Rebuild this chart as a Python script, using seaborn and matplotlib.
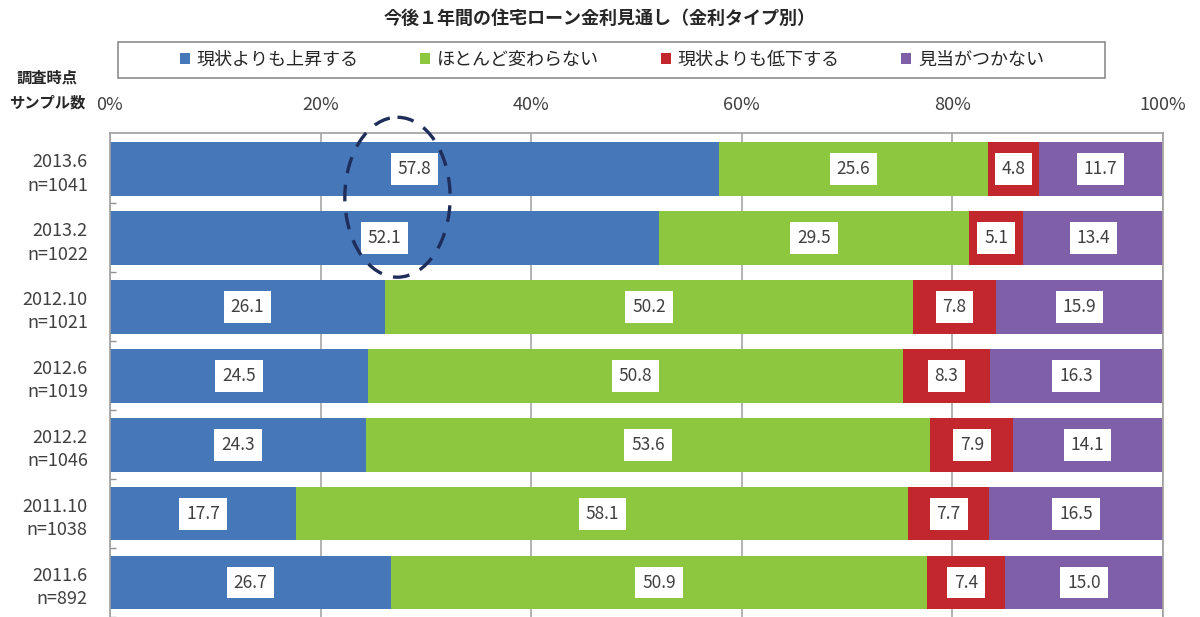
import matplotlib
matplotlib.use("Agg")
import matplotlib.pyplot as plt
import seaborn as sns
import pandas as pd
import numpy as np
from matplotlib.patches import Ellipse, Rectangle, Patch

sns.set_theme(style="white")
plt.rcParams['font.family'] = ['Noto Sans CJK JP', 'DejaVu Sans']

title = "今後１年間の住宅ローン金利見通し（金利タイプ別）"
dates = ["2013.6", "2013.2", "2012.10", "2012.6", "2012.2", "2011.10", "2011.6"]
samples = [1041, 1022, 1021, 1019, 1046, 1038, 892]
series_names = ["現状よりも上昇する", "ほとんど変わらない", "現状よりも低下する", "見当がつかない"]
rise = [57.8, 52.1, 26.1, 24.5, 24.3, 17.7, 26.7]
flat = [25.6, 29.5, 50.2, 50.8, 53.6, 58.1, 50.9]
fall = [4.8, 5.1, 7.8, 8.3, 7.9, 7.7, 7.4]
unknown = [11.7, 13.4, 15.9, 16.3, 14.1, 16.5, 15.0]
xticks = [0, 20, 40, 60, 80, 100]

colors = ["#4677b8", "#8dc63f", "#c1272d", "#7f5fa8"]
text_color = "#404040"

cats = [f"{d}\nn={n}" for d, n in zip(dates, samples)]
df = pd.DataFrame({"cat": cats, "rise": rise, "flat": flat, "fall": fall, "unknown": unknown})
cols = ["rise", "flat", "fall", "unknown"]
cum = df[cols].cumsum(axis=1)

fig = plt.figure(figsize=(12, 6.17), dpi=100)
ax = fig.add_axes([110/1200, 0.0, 1053/1200, 1 - 133/617])

# draw cumulative from the end back so each segment shows
for col, c in zip(reversed(cols), reversed(colors)):
    sns.barplot(data=cum.assign(cat=df["cat"]), x=col, y="cat", order=cats,
                color=c, saturation=1, width=0.78, orient="h", ax=ax,
                edgecolor="none", linewidth=0, zorder=2)

# value labels
for i in range(len(cats)):
    for col in cols:
        v = df.loc[i, col]
        center = cum.loc[i, col] - v / 2
        ax.text(center, i, f"{v:.1f}", ha="center", va="center", fontsize=12.5,
                color=text_color, zorder=5,
                bbox=dict(boxstyle="square,pad=0.4", fc="white", ec="none"))

ax.set_xlim(0, 100)
ax.set_ylim(6.49, -0.522)
ax.set_xticks(xticks)
ax.set_xticklabels([f"{t}%" for t in xticks], fontsize=13, color=text_color)
ax.xaxis.tick_top()
ax.xaxis.set_label_position("top")
ax.set_xlabel("")
ax.set_ylabel("")
ax.tick_params(axis="x", length=0, pad=14)
ax.tick_params(axis="y", length=0, pad=16)
for lab in ax.get_yticklabels():
    lab.set_fontsize(13)
    lab.set_color(text_color)
    lab.set_linespacing(1.4)
    lab.set_ha("right")

ax.set_yticks(np.arange(len(cats)) + 0.5, minor=True)
ax.tick_params(axis="y", which="minor", direction="in", length=4, color="#909090", width=1, left=True)

ax.grid(axis="x", color="#a6a6a6", linewidth=1.2, zorder=0)
ax.set_axisbelow(True)
for s in ["top", "left", "right"]:
    ax.spines[s].set_visible(True)
    ax.spines[s].set_color("#a0a0a0")
    ax.spines[s].set_linewidth(1.2)
ax.spines["bottom"].set_visible(False)

# dashed ellipse highlight
ell = Ellipse((27.3, 0.41), width=10.0, height=2.32, fill=False, ls=(0, (5, 3.5)),
              ec="#1f2d5a", lw=2.4, zorder=6, clip_on=False)
ax.add_patch(ell)

# title
fig.text(0.5, 1 - 18/617, title, ha="center", va="center", fontsize=13,
         fontweight="bold", color="#262626")

# left header
fig.text(47/1200, 1 - 78/617, "調査時点", ha="center", va="center", fontsize=11,
         fontweight="bold", color="#262626")
fig.text(47/1200, 1 - 103/617, "サンプル数", ha="center", va="center", fontsize=11,
         fontweight="bold", color="#262626")

# legend box
fig.patches.append(Rectangle((118/1200, 1 - 78/617), (1105-118)/1200, 36/617,
                             transform=fig.transFigure, fill=False, ec="#8c8c8c", lw=1.2))
handles = [Patch(facecolor=c, edgecolor="none") for c in colors]
fig.legend(handles, series_names, loc="center", bbox_to_anchor=(612/1200, 1 - 60/617),
           ncol=4, frameon=False, fontsize=13, handlelength=0.55, handleheight=0.55,
           handletextpad=0.4, columnspacing=3.4, labelcolor="#262626")

fig.savefig("out.png", dpi=100)
